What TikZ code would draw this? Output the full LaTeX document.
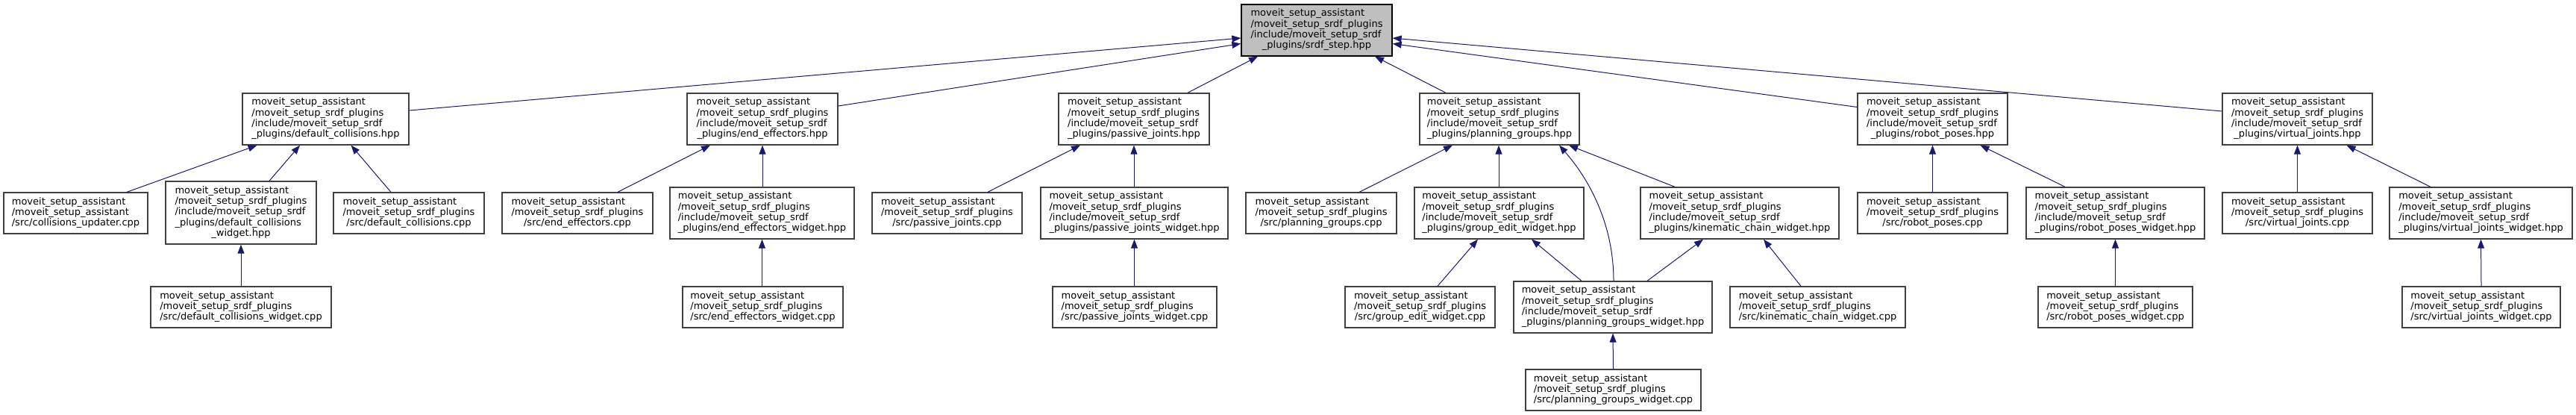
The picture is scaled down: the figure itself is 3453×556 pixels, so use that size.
\documentclass[tikz,border=0pt]{standalone}
\usepackage{fontspec}
\setmainfont{DejaVu Sans}
\usetikzlibrary{arrows.meta,calc}
\definecolor{edgeblue}{HTML}{191970}
\definecolor{boxline}{HTML}{404040}
\definecolor{rootfill}{HTML}{BFBFBF}
\newcommand\lab[2]{\begin{tabular}{@{}l@{}}#1\\\multicolumn{1}{@{}c@{}}{#2}\end{tabular}}
\newcommand\mpre{moveit\_setup\_assistant\\/moveit\_setup\_srdf\_plugins}
\newcommand\incl[1]{\lab{\mpre\\/include/moveit\_setup\_srdf}{\_plugins/#1}}
\newcommand\srcf[1]{\lab{\mpre}{/src/#1}}
\tikzset{
  box/.style={draw=boxline, fill=white, line width=1.3pt, inner sep=0pt, anchor=center,
    font=\fontsize{13}{14.3}\selectfont},
  rootbox/.style={box, draw=black, fill=rootfill},
  h3/.style={minimum height=55pt},
  h4/.style={minimum height=69pt},
  h5/.style={minimum height=84pt},
  edge/.style={draw=edgeblue, line width=1pt, -{Triangle[length=12pt,width=9pt]}},
}
\begin{document}
\begin{tikzpicture}[x=1pt,y=-1pt]
\useasboundingbox (0,0) rectangle (3453,556);
% root
\node[rootbox,h4,minimum width=202pt] (root) at (1765,40.5) {\incl{srdf\_step.hpp}};
% row 1
\node[box,h4,minimum width=223pt] (dc) at (436.5,159.5) {\incl{default\_collisions.hpp}};
\node[box,h4,minimum width=202pt] (ee) at (1022,159.5) {\incl{end\_effectors.hpp}};
\node[box,h4,minimum width=202pt] (pj) at (1520,159.5) {\incl{passive\_joints.hpp}};
\node[box,h4,minimum width=214pt] (pg) at (2010,159.5) {\incl{planning\_groups.hpp}};
\node[box,h4,minimum width=201pt] (rp) at (2590.5,159.5) {\incl{robot\_poses.hpp}};
\node[box,h4,minimum width=201pt] (vj) at (3079.5,159.5) {\incl{virtual\_joints.hpp}};
% row 2
\node[box,h3,minimum width=193pt] (cu) at (101.5,285.5) {\lab{moveit\_setup\_assistant\\/moveit\_setup\_assistant}{/src/collisions\_updater.cpp}};
\node[box,h5,minimum width=202pt] (dcw) at (323,285) {\lab{\mpre\\/include/moveit\_setup\_srdf\\\_plugins/default\_collisions}{\_widget.hpp}};
\node[box,h3,minimum width=202pt] (dcc) at (548,285.5) {\srcf{default\_collisions.cpp}};
\node[box,h3,minimum width=202pt] (eec) at (774,285.5) {\srcf{end\_effectors.cpp}};
\node[box,h4,minimum width=247pt] (eew) at (1021.5,285.5) {\incl{end\_effectors\_widget.hpp}};
\node[box,h3,minimum width=201pt] (pjc) at (1269.5,285.5) {\srcf{passive\_joints.cpp}};
\node[box,h4,minimum width=251pt] (pjw) at (1520.5,285.5) {\incl{passive\_joints\_widget.hpp}};
\node[box,h3,minimum width=202pt] (pgc) at (1771,285.5) {\srcf{planning\_groups.cpp}};
\node[box,h4,minimum width=227pt] (gew) at (2009.5,285.5) {\incl{group\_edit\_widget.hpp}};
\node[box,h4,minimum width=266pt] (kcw) at (2332,285.5) {\incl{kinematic\_chain\_widget.hpp}};
\node[box,h3,minimum width=201pt] (rpc) at (2590.5,285.5) {\srcf{robot\_poses.cpp}};
\node[box,h4,minimum width=239pt] (rpw) at (2835.5,285.5) {\incl{robot\_poses\_widget.hpp}};
\node[box,h3,minimum width=201pt] (vjc) at (3079.5,285.5) {\srcf{virtual\_joints.cpp}};
\node[box,h4,minimum width=245pt] (vjw) at (3325.5,285.5) {\incl{virtual\_joints\_widget.hpp}};
% row 3
\node[box,h3,minimum width=242pt] (dcwc) at (323,411.5) {\srcf{default\_collisions\_widget.cpp}};
\node[box,h3,minimum width=215pt] (eewc) at (1022.5,411.5) {\srcf{end\_effectors\_widget.cpp}};
\node[box,h3,minimum width=220pt] (pjwc) at (1521,411.5) {\srcf{passive\_joints\_widget.cpp}};
\node[box,h3,minimum width=201pt] (gewc) at (1903.5,411.5) {\srcf{group\_edit\_widget.cpp}};
\node[box,h4,minimum width=266pt] (pgw) at (2162,411.5) {\incl{planning\_groups\_widget.hpp}};
\node[box,h3,minimum width=235pt] (kcwc) at (2436.5,411.5) {\srcf{kinematic\_chain\_widget.cpp}};
\node[box,h3,minimum width=207pt] (rpwc) at (2835.5,411.5) {\srcf{robot\_poses\_widget.cpp}};
\node[box,h3,minimum width=212pt] (vjwc) at (3326,411.5) {\srcf{virtual\_joints\_widget.cpp}};
% row 4
\node[box,h3,minimum width=235pt] (pgwc) at (2162.5,522.5) {\srcf{planning\_groups\_widget.cpp}};
% edges to root
\draw[edge] ($(dc.east)+(0,-11.5)$) -- ($(root.west)+(0,10.5)$);
\draw[edge] ($(ee.east)+(0,-17.5)$) -- ($(root.west)+(0,18)$);
\draw[edge] ($(pj.north)+(72,0)$) -- ($(root.south)+(-79,0)$);
\draw[edge] ($(pg.north)+(-72,0)$) -- ($(root.south)+(78,0)$);
\draw[edge] ($(rp.west)+(0,-16)$) -- ($(root.east)+(0,18)$);
\draw[edge] ($(vj.west)+(0,-10.5)$) -- ($(root.east)+(0,10.5)$);
% default collisions
\draw[edge] ($(cu.north)+(68.5,0)$) -- ($(dc.south)+(-92,0)$);
\draw[edge] ($(dcw.north)+(38,0)$) -- ($(dc.south)+(-34.5,0)$);
\draw[edge] ($(dcc.north)+(-24,0)$) -- ($(dc.south)+(34,0)$);
\draw[edge] (dcwc.north) -- (dcw.south);
% end effectors
\draw[edge] ($(eec.north)+(54,0)$) -- ($(ee.south)+(-70,0)$);
\draw[edge] ($(eew.north)+(0.5,0)$) -- ($(ee.south)+(0,0)$);
\draw[edge] ($(eewc.north)+(-1,0)$) -- ($(eew.south)+(0,0)$);
% passive joints
\draw[edge] ($(pjc.north)+(54.5,0)$) -- ($(pj.south)+(-72,0)$);
\draw[edge] ($(pjw.north)+(-0.5,0)$) -- (pj.south);
\draw[edge] ($(pjwc.north)+(-0.5,0)$) -- (pjw.south);
% planning groups
\draw[edge] ($(pgc.north)+(51,0)$) -- ($(pg.south)+(-63,0)$);
\draw[edge] ($(gew.north)+(-0.5,0)$) -- ($(pg.south)+(-1,0)$);
\draw[edge] ($(pgw.north)+(1,0)$) .. controls (2163,300) and (2130,240) .. ($(pg.south)+(80,0)$);
\draw[edge] ($(kcw.north)+(-87,0)$) -- ($(pg.south)+(93,0)$);
\draw[edge] ($(gewc.north)+(23.5,0)$) -- ($(gew.south)+(-28.5,0)$);
\draw[edge] ($(pgw.north)+(-42,0)$) -- ($(gew.south)+(43.5,0)$);
\draw[edge] ($(pgw.north)+(46,0)$) -- ($(kcw.south)+(-49,0)$);
\draw[edge] ($(kcwc.north)+(-22.5,0)$) -- ($(kcw.south)+(32,0)$);
\draw[edge] (pgwc.north) -- (pgw.south);
% robot poses
\draw[edge] (rpc.north) -- (rp.south);
\draw[edge] ($(rpw.north)+(-67.5,0)$) -- ($(rp.south)+(64,0)$);
\draw[edge] (rpwc.north) -- (rpw.south);
% virtual joints
\draw[edge] (vjc.north) -- (vj.south);
\draw[edge] ($(vjw.north)+(-67.5,0)$) -- ($(vj.south)+(66,0)$);
\draw[edge] (vjwc.north) -- (vjw.south);
\end{tikzpicture}
\end{document}
